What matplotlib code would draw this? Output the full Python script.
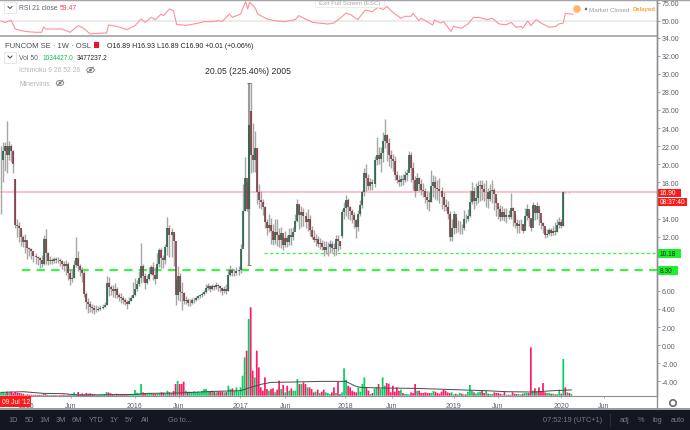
#!/usr/bin/env python
"""
FUNCOM SE weekly chart: RSI pane, candles with volume, dark toolbar.
"""

import matplotlib
matplotlib.use("Agg")
import matplotlib.pyplot as plt
from matplotlib.patches import Rectangle, Circle, Ellipse

plt.rcParams["font.family"] = ["Liberation Sans", "DejaVu Sans"]

# weekly candles, index = week number from the left edge
CLOSE = [
    20.5, 21.5, 22.0, 21.0, 22.0, 21.5, 20.0, 13.3, 13.2, 12.9,
    12.0, 11.4, 11.6, 10.7, 10.6, 10.4, 9.9, 9.8, 9.6, 9.4,
    9.0, 11.7, 10.2, 9.3, 9.4, 9.3, 9.5, 9.4, 9.4, 9.3,
    9.0, 8.8, 9.0, 8.0, 7.3, 7.4, 8.9, 9.6, 8.7, 8.3,
    8.0, 5.7, 4.8, 4.5, 4.2, 4.1, 3.9, 3.9, 4.0, 4.1,
    4.2, 4.4, 6.9, 6.4, 6.2, 6.0, 6.2, 5.5, 5.3, 5.2,
    5.0, 4.8, 4.5, 4.9, 5.2, 5.5, 6.2, 6.8, 7.4, 8.8,
    7.6, 6.9, 7.3, 7.9, 8.6, 7.8, 7.3, 9.0, 10.5, 9.6,
    9.4, 10.9, 13.0, 12.2, 12.5, 11.5, 5.6, 7.6, 5.9, 5.8,
    4.9, 5.0, 4.7, 4.7, 5.0, 5.0, 5.2, 5.4, 5.5, 5.7,
    5.9, 6.3, 6.5, 6.2, 6.5, 6.4, 6.7, 6.5, 6.3, 6.0,
    6.2, 6.0, 7.8, 8.3, 8.0, 8.0, 8.2, 8.3, 10.6, 14.8,
    18.5, 15.0, 24.3, 21.0, 20.5, 21.8, 16.9, 16.0, 15.8, 15.3,
    13.6, 13.0, 13.3, 12.6, 11.6, 12.5, 12.2, 11.6, 12.4, 11.1,
    11.9, 11.4, 12.2, 12.0, 12.5, 13.7, 15.6, 14.4, 14.7, 14.3,
    13.6, 14.0, 12.7, 12.0, 11.6, 11.7, 11.2, 11.3, 10.8, 10.5,
    10.9, 10.9, 11.2, 10.7, 10.6, 11.7, 11.5, 11.0, 14.7, 15.2,
    16.0, 15.3, 14.8, 14.4, 13.8, 13.1, 14.5, 15.5, 16.9, 19.0,
    18.5, 17.6, 18.0, 17.8, 20.5, 21.0, 20.6, 21.2, 22.6, 23.2,
    22.3, 21.0, 20.6, 20.4, 18.8, 18.2, 18.0, 18.4, 18.3, 18.8,
    19.0, 21.0, 19.6, 18.2, 17.0, 18.5, 17.8, 17.2, 17.0, 16.4,
    16.0, 15.8, 17.6, 18.0, 17.4, 17.3, 17.0, 16.4, 15.5, 15.3,
    14.5, 12.0, 13.0, 14.5, 13.0, 13.0, 13.0, 12.9, 14.0, 13.9,
    14.3, 15.8, 17.0, 15.9, 16.3, 17.6, 17.7, 17.3, 16.9, 16.9,
    16.1, 17.0, 17.2, 16.7, 15.7, 15.1, 14.2, 14.7, 14.2, 14.4,
    14.2, 15.2, 14.8, 13.5, 13.2, 13.4, 13.4, 12.6, 14.3, 15.0,
    14.1, 13.0, 15.5, 14.6, 15.4, 14.6, 13.5, 13.2, 12.2, 12.3,
    12.7, 12.4, 12.6, 12.5, 13.3, 13.6, 13.2, 16.9, 16.88, 16.90,
    16.89, 16.90,
]
HIGH = [
    22.0, 22.4, 22.4, 24.8, 22.6, 22.2, 21.6, 18.4, 13.9, 13.6,
    12.7, 12.2, 12.3, 11.0, 10.9, 10.7, 10.3, 10.2, 9.9, 9.7,
    10.0, 12.2, 12.8, 10.3, 9.9, 9.6, 9.8, 9.7, 9.7, 9.6,
    9.4, 9.3, 9.4, 9.2, 8.4, 8.4, 9.4, 12.0, 10.4, 9.0,
    8.6, 8.2, 5.9, 5.2, 4.9, 4.6, 4.4, 4.4, 4.3, 4.4,
    4.5, 4.8, 7.7, 7.5, 6.6, 6.6, 6.9, 6.4, 5.8, 5.8,
    5.4, 5.2, 5.0, 5.3, 5.6, 7.0, 7.4, 7.2, 8.2, 11.3,
    9.0, 8.0, 7.8, 8.6, 8.9, 9.2, 8.6, 10.2, 10.7, 10.7,
    10.0, 11.2, 14.2, 13.3, 13.0, 12.4, 7.3, 8.7, 8.0, 7.0,
    5.9, 5.4, 5.2, 5.1, 5.2, 5.3, 5.4, 5.6, 5.7, 5.9,
    6.1, 6.8, 6.9, 6.6, 6.8, 6.7, 7.0, 6.8, 6.7, 6.4,
    6.5, 6.8, 8.4, 8.9, 8.5, 8.4, 8.6, 8.7, 11.2, 17.8,
    20.8, 18.0, 28.9, 29.0, 24.6, 23.7, 21.8, 17.8, 17.0, 16.2,
    15.4, 13.9, 14.5, 14.1, 13.4, 14.0, 14.0, 12.9, 13.1, 12.1,
    12.6, 12.2, 12.9, 12.9, 13.1, 14.5, 16.2, 15.5, 15.4, 15.2,
    14.7, 15.0, 14.4, 13.2, 12.7, 12.3, 12.1, 11.9, 11.6, 11.5,
    11.5, 11.4, 11.6, 11.5, 11.3, 12.2, 12.2, 11.5, 15.0, 15.8,
    16.6, 16.3, 15.4, 15.0, 14.7, 14.0, 14.9, 16.0, 17.2, 19.6,
    20.0, 18.9, 18.5, 18.4, 20.9, 23.0, 21.9, 21.9, 23.6, 25.0,
    23.3, 22.9, 21.6, 21.1, 20.9, 19.3, 18.8, 18.8, 18.9, 19.2,
    19.5, 21.5, 21.4, 20.2, 18.7, 19.0, 18.6, 18.4, 17.9, 17.4,
    17.0, 16.9, 19.4, 18.8, 18.7, 18.2, 18.5, 17.5, 16.9, 16.2,
    15.9, 14.8, 14.0, 14.8, 14.2, 13.8, 13.7, 13.4, 14.9, 14.5,
    15.0, 17.2, 18.0, 17.5, 17.9, 18.1, 18.3, 18.3, 17.9, 18.3,
    17.4, 17.8, 18.3, 17.4, 16.4, 15.4, 15.5, 15.4, 15.2, 15.2,
    14.9, 16.8, 15.3, 14.5, 13.9, 13.8, 13.9, 13.4, 15.2, 15.6,
    14.8, 13.9, 15.8, 15.5, 15.8, 15.0, 13.8, 13.6, 13.0, 12.8,
    13.0, 13.0, 13.2, 13.6, 14.0, 14.2, 13.9, 17.0, 16.93, 16.93,
    16.93, 16.93,
]
LOW = [
    14.5, 18.0, 19.2, 19.0, 20.5, 20.2, 19.0, 13.0, 12.0, 11.4,
    11.0, 10.9, 10.2, 9.5, 9.9, 9.5, 9.2, 9.0, 8.9, 8.5,
    8.6, 8.9, 9.0, 8.9, 9.0, 9.0, 9.1, 9.1, 9.1, 8.7,
    8.4, 8.2, 7.8, 7.2, 6.6, 7.0, 7.4, 8.6, 8.2, 7.6,
    7.0, 5.3, 4.0, 3.6, 3.7, 3.6, 3.5, 3.7, 3.8, 3.9,
    4.0, 4.2, 4.4, 5.4, 5.6, 5.3, 5.2, 5.2, 4.9, 4.7,
    4.6, 4.4, 4.0, 4.5, 4.9, 5.2, 5.4, 6.0, 6.5, 6.9,
    7.0, 6.2, 6.8, 7.2, 7.8, 7.2, 6.8, 8.2, 8.6, 8.5,
    8.5, 9.0, 10.0, 9.8, 9.7, 8.8, 4.4, 5.0, 4.9, 3.9,
    4.5, 4.6, 4.3, 4.3, 4.6, 4.7, 4.9, 5.1, 5.2, 5.3,
    5.5, 5.8, 6.1, 5.9, 6.1, 6.1, 6.2, 6.0, 5.9, 5.6,
    5.8, 5.7, 6.0, 7.6, 7.6, 7.6, 7.8, 7.8, 8.0, 11.0,
    14.8, 14.8, 14.5, 19.0, 19.1, 19.1, 15.6, 15.2, 15.0, 14.4,
    12.9, 12.2, 12.5, 11.2, 11.1, 11.2, 11.0, 10.9, 10.7, 10.5,
    10.9, 10.8, 11.1, 11.1, 11.6, 12.9, 13.6, 12.8, 13.1, 13.2,
    13.0, 12.6, 12.1, 11.7, 11.4, 11.0, 10.9, 10.6, 10.5, 9.9,
    10.1, 9.9, 10.2, 10.3, 9.9, 10.0, 10.4, 10.6, 11.9, 13.9,
    14.3, 14.0, 13.8, 13.5, 12.9, 11.8, 12.6, 14.3, 15.2, 16.5,
    17.0, 17.2, 17.2, 17.2, 17.5, 19.9, 20.0, 19.1, 20.2, 21.8,
    20.4, 19.8, 19.6, 19.2, 18.2, 17.9, 17.6, 17.6, 17.7, 18.0,
    18.1, 19.4, 18.0, 17.2, 16.4, 17.2, 17.0, 16.6, 16.4, 15.7,
    15.1, 14.8, 15.8, 16.4, 16.2, 16.0, 15.7, 15.0, 14.8, 14.8,
    13.9, 11.5, 11.5, 12.3, 12.4, 12.5, 12.3, 12.3, 12.7, 13.5,
    13.7, 14.2, 15.6, 15.0, 15.5, 15.7, 15.9, 16.0, 15.9, 15.3,
    15.2, 15.9, 15.7, 14.9, 14.3, 14.0, 13.7, 13.8, 13.7, 13.5,
    13.9, 13.9, 13.2, 12.9, 12.4, 12.4, 12.7, 12.4, 13.2, 13.8,
    13.2, 12.6, 13.8, 13.8, 14.0, 13.3, 12.8, 12.4, 11.9, 12.0,
    12.2, 12.1, 12.2, 12.2, 12.5, 12.9, 13.0, 13.2, 16.86, 16.88,
    16.87, 16.89,
]
# weeks that opened away from the previous close
OPEN_GAPS = {7: 18.4, 123: 25.9, 168: 12.1}

# volume, millions of shares
VOLUME = [
    2.0, 2.2, 1.5, 2.4, 1.8, 2.5, 1.5, 2.2, 1.8, 1.6,
    1.4, 1.2, 0.6, 0.8, 0.6, 0.6, 0.5, 0.5, 0.4, 0.5,
    0.5, 1.4, 0.9, 0.5, 0.4, 0.4, 0.5, 0.4, 0.3, 0.4,
    0.4, 0.6, 0.4, 0.5, 0.5, 0.8, 2.0, 1.0, 2.2, 0.8,
    1.4, 0.8, 1.6, 1.2, 1.4, 1.0, 0.8, 0.6, 0.5, 0.6,
    0.7, 1.0, 2.2, 2.0, 1.4, 1.0, 0.8, 1.2, 0.9, 1.0,
    0.7, 0.8, 0.9, 1.0, 0.8, 1.0, 3.5, 1.8, 1.2, 7.0,
    2.0, 1.4, 1.2, 1.4, 1.6, 1.2, 1.0, 1.2, 1.6, 2.0,
    1.8, 1.4, 3.0, 2.0, 1.6, 2.8, 7.0, 8.8, 7.0, 7.0,
    8.4, 3.0, 2.4, 2.4, 2.0, 2.6, 2.2, 2.4, 2.0, 2.8,
    4.0, 4.0, 2.4, 2.6, 3.0, 2.4, 2.0, 2.6, 2.4, 2.4,
    2.0, 2.2, 6.0, 4.0, 4.4, 3.0, 5.0, 2.6, 5.0, 12.0,
    23.0, 27.0, 46.0, 53.0, 15.0, 11.0, 27.0, 17.0, 5.0, 3.0,
    11.0, 4.0, 3.0, 4.0, 4.4, 2.0, 3.6, 9.0, 4.0, 6.4,
    2.0, 6.0, 3.0, 4.4, 3.0, 3.0, 10.0, 7.0, 7.0, 8.0,
    7.0, 5.0, 5.0, 4.0, 2.0, 2.4, 3.6, 1.6, 2.4, 3.6,
    2.0, 1.6, 1.0, 2.0, 5.0, 1.6, 8.4, 1.0, 2.0, 16.4,
    9.6, 6.0, 5.0, 3.0, 2.4, 2.0, 5.0, 2.4, 7.0, 11.0,
    5.0, 3.0, 1.0, 1.6, 4.4, 5.0, 7.0, 4.0, 11.0, 6.0,
    7.6, 7.2, 2.0, 6.0, 2.4, 5.0, 3.0, 3.6, 1.6, 1.0,
    1.0, 0.8, 2.0, 1.6, 7.0, 3.0, 3.0, 1.6, 1.6, 2.0,
    1.6, 1.6, 1.6, 2.8, 2.4, 1.6, 1.2, 2.4, 3.6, 3.0,
    2.0, 1.6, 2.0, 0.8, 1.2, 0.8, 1.6, 1.2, 0.8, 0.8,
    2.4, 6.4, 3.0, 2.0, 1.2, 2.0, 2.4, 3.2, 1.6, 2.8,
    1.2, 1.0, 1.0, 2.0, 1.6, 1.6, 1.2, 0.8, 2.4, 0.6,
    0.6, 0.6, 2.0, 1.2, 1.0, 1.0, 0.8, 1.2, 1.6, 1.6,
    1.6, 29.0, 3.0, 4.4, 2.4, 5.0, 2.8, 7.6, 2.0, 1.6,
    1.6, 1.2, 1.2, 0.8, 1.0, 3.6, 1.2, 22.0, 5.0, 2.0,
    1.6, 1.03,
]
VOL_MA_WEEK = [0, 11, 21, 31, 38, 54, 66, 72, 87, 105, 118, 123, 128, 133,
               144, 158, 170, 174, 177, 188, 203, 214, 224, 239, 249, 262, 272, 281]
VOL_MA = [2.0, 2.4, 1.4, 1.2, 0.4, 0.6, 0.8, 1.4, 1.6, 2.6, 3.0, 5.0, 6.8, 8.0,
          8.2, 8.6, 8.6, 6.0, 5.0, 4.6, 4.4, 4.0, 3.6, 3.0, 2.4, 2.2, 3.0, 3.48]

RSI_WEEK = [
    0, 2, 5, 7, 10, 13, 17, 20, 21, 22, 30, 34, 38, 40, 44, 47, 52, 53, 57, 62,
    66, 69, 71, 74, 76, 79, 80, 83, 85, 86.5, 91, 96, 100, 104, 107, 109, 112.5,
    114, 116, 118, 120.5, 121.5, 122.5, 125, 126.5, 131, 134.6, 139.6, 145,
    146.6, 150, 153.5, 161, 164, 167.5, 170, 172.5, 175.7, 179.5, 183, 185.6,
    188.4, 190, 193, 197, 199, 202, 203, 205.8, 207, 212.7, 213.5, 216.5, 218,
    221.7, 222.9, 226.7, 230, 232.7, 235.7, 239.3, 242, 245.5, 248.8, 251.3,
    253.7, 256.2, 257, 259.5, 261, 263.6, 266, 270, 273.4, 274.6, 277, 278, 281.7,
]
RSI_VALUE = [
    50, 48, 51, 39, 36.6, 35.2, 34.3, 34.3, 41.7, 38.9, 38.9, 34.3, 43.5, 41.2,
    32, 32.8, 33.3, 44.4, 42.6, 38, 43.5, 52.8, 48.1, 55, 51.9, 59.7, 57.4, 66.7,
    64.4, 45.4, 43.9, 46.3, 49.1, 49.1, 50.5, 49.5, 59.7, 55, 57.4, 59.7, 76.8,
    66.7, 76, 69.1, 59.7, 52.8, 50.5, 49.1, 51.9, 57.4, 52.8, 48.1, 45.8, 47.2,
    55, 61, 58.3, 51.9, 65.3, 63, 69, 65.8, 70.4, 62.1, 53.7, 56.5, 56.5, 60.6,
    50.5, 53.7, 44.4, 51.4, 47.2, 49.1, 35.6, 42.6, 39.8, 45.8, 55, 55, 51.9,
    53.7, 45.8, 44.9, 48.1, 41.2, 42.6, 39.8, 50, 43.5, 51.9, 47.2, 41.2, 42.6,
    45.8, 47.2, 60.6, 59.47,
]

# 16.00, 10.00 and 8.00 sit under the price tags in the chart, so they get no label
PRICE_TICKS = list(range(34, -6, -2))
HIDDEN_PRICE_LABELS = [16, 10, 8]
RSI_TICKS = [75, 50]
DATE_TICK_WEEKS = [12.5, 34.5, 65.8, 87.7, 117.7, 140, 169.5, 192.5, 223, 244.6, 275.9, 297]
DATE_TICK_LABELS = ["2015", "Jun", "2016", "Jun", "2017", "Jun", "2018", "Jun", "2019", "Jun", "2020", "Jun"]

LAST_PRICE = 16.90
SUPPORT_UPPER = 10.18
SUPPORT_LOWER = 8.30
MEASURE_LOW = 8.9
MEASURE_HIGH = 28.95

W, H = 690, 431
GRID = "#8f8f94"
LABEL = "#5d606b"
UP_BODY, DOWN_BODY = "#17583a", "#7d2a34"
UP_VOL, DOWN_VOL = "#00d060", "#ff1a66"
PINK = "#ffb0b8"
LIME = "#2dfc3c"
RED = "#ff1a1a"


def add_pane(fig, left, top, right, bottom, **kwargs):
    """Axes placed by pixel edges, measured from the top left."""
    return fig.add_axes([left / W, 1 - bottom / H, (right - left) / W, (bottom - top) / H], **kwargs)


def week_limits():
    # 2.03 px per week, week 0 sits 1 px in from the left edge
    return (-1 / 2.03, 656 / 2.03)


fig = plt.figure(figsize=(W / 100, H / 100), dpi=100, facecolor="white")

# RSI pane
ax_rsi = add_pane(fig, 0, 1, 657, 37)
ax_rsi.set_xlim(*week_limits())
ax_rsi.set_ylim(50 + (22 - 37) / 0.72, 50 + (22 - 1) / 0.72)
ax_rsi.axhline(50, color="#e9e9e9", lw=1.2)
ax_rsi.plot(RSI_WEEK, RSI_VALUE, color="#ff8f98", lw=0.8)
ax_rsi.yaxis.tick_right()
ax_rsi.set_yticks(RSI_TICKS)
ax_rsi.set_yticklabels([f"{t:.2f}" for t in RSI_TICKS])
ax_rsi.set_xticks([])

# price pane
ax = add_pane(fig, 0, 38, 657, 396.7)
ax.set_xlim(*week_limits())
ax.set_ylim(34 - (396.7 - 38.5) / 9.05, 34 - (38 - 38.5) / 9.05)

weeks = list(range(len(CLOSE)))
opens = [CLOSE[0]] + CLOSE[:-1]
for week, value in OPEN_GAPS.items():
    opens[week] = value
is_up = [c >= o for c, o in zip(CLOSE, opens)]

ax.axhline(LAST_PRICE, color=PINK, lw=1.1, zorder=1)
ax.hlines(SUPPORT_UPPER, 129.6, week_limits()[1], color=LIME, lw=0.9, linestyles=(0, (2.5, 2)), zorder=1)
ax.hlines(SUPPORT_LOWER, 10.5, week_limits()[1], color=LIME, lw=1.5, linestyles=(0, (4, 3)), zorder=1)

ax.vlines(weeks, LOW, HIGH, color="#a6a6a6", lw=1.0, zorder=2)
body_color = [UP_BODY if u else DOWN_BODY for u in is_up]
ax.vlines(weeks, opens, CLOSE, color=body_color, lw=1.1, zorder=3)

# the measure tool drawn over the 2017 spike
ax.vlines(122.2, MEASURE_LOW, MEASURE_HIGH, color="#9c9c9c", lw=1.5, zorder=2)
ax.hlines([MEASURE_LOW, MEASURE_HIGH], 121.2, 123.2, color="#666666", lw=0.6, zorder=4)

ax.yaxis.tick_right()
ax.set_yticks(PRICE_TICKS)
ax.set_yticklabels(["" if t in HIDDEN_PRICE_LABELS else f"{t:.2f}" for t in PRICE_TICKS])
ax.set_xticks(DATE_TICK_WEEKS)
ax.set_xticklabels(DATE_TICK_LABELS)

# volume sits on the same span with its own scale, 0.6M per pixel
ax_vol = add_pane(fig, 0, 38, 657, 396.7)
ax_vol.patch.set_alpha(0)
ax_vol.set_xlim(*week_limits())
ax_vol.set_ylim(0, 358.7 * 0.6)
vol_bars = ax_vol.bar(weeks, VOLUME, width=0.85, color=[UP_VOL if u else DOWN_VOL for u in is_up], linewidth=0)
for bar in vol_bars:
    # snapping leaves some bars one pixel wide and others two
    bar.set_snap(False)
ax_vol.plot(VOL_MA_WEEK, VOL_MA, color="#4a4a4a", lw=0.7)
ax_vol.axis("off")

for a in (ax, ax_rsi):
    for side in ("top", "left", "bottom"):
        a.spines[side].set_visible(False)
    a.spines["right"].set_color(GRID)
    a.spines["right"].set_linewidth(1.0)
    a.tick_params(axis="y", length=2, width=0.6, color=GRID, labelsize=5, labelcolor=LABEL, pad=1.5)
ax.spines["bottom"].set_visible(True)
ax.spines["bottom"].set_color(GRID)
ax.spines["bottom"].set_linewidth(0.8)
ax.tick_params(axis="x", length=1.5, width=0.5, color=GRID, labelsize=5, labelcolor=LABEL, pad=3)

# overlay in pixel coordinates for the chrome
ov = fig.add_axes([0, 0, 1, 1], zorder=10)
ov.set_xlim(0, W)
ov.set_ylim(H, 0)
ov.axis("off")
ov.patch.set_alpha(0)


def label(x, y, s, size=5.0, color=LABEL, ha="left", **kwargs):
    return ov.text(x, y, s, fontsize=size, color=color, ha=ha, va="center", **kwargs)


def button(x, y):
    ov.add_patch(Rectangle((x, y), 12, 11, fc="white", ec="#e3e3e3", lw=0.6))
    ov.plot([x + 4, x + 6, x + 8], [y + 4.5, y + 6.5, y + 4.5], color="#444444", lw=0.7)


def eye(x, y):
    ov.add_patch(Ellipse((x, y), 7.5, 5, fc="none", ec="#777777", lw=0.6))
    ov.add_patch(Circle((x, y), 1.4, fc="#777777", ec="none"))
    ov.plot([x - 3, x + 3], [y + 3, y - 3], color="#777777", lw=0.5)


def tag(x0, x1, y0, y1, s, color, text_color):
    ov.add_patch(Rectangle((x0, y0), x1 - x0, y1 - y0, fc=color, ec="none"))
    label(x0 + 2.5, (y0 + y1) / 2, s, size=4.8, color=text_color)


# frame lines
ov.plot([0, W], [0.5, 0.5], color="#a3a3a8", lw=1.0)
ov.plot([0, 657], [37, 37], color="#a8a8a8", lw=1.3)
ov.plot([657, 657], [0, 410], color=GRID, lw=1.0)

# RSI legend and status
button(4, 3)
label(19, 9, "RSI 21 close", size=4.9)
label(60, 9, "59.47", color="#ff3b4a", size=4.9)
ov.add_patch(Rectangle((315, 0), 69, 8, fc="white", ec="#e6e6e6", lw=0.5))
label(349.5, 4, "Exit Full Screen (ESC)", size=4.4, color="#a9a9a9", ha="center")
ov.add_patch(Circle((577, 10), 3.8, fc="#ffb469", ec="#ffd9b3", lw=0.5))
ov.add_patch(Circle((586, 10), 1.3, fc="#70727a", ec="none"))
label(589, 10, "Market Closed", size=4.5, color="#9a9ca3")
label(633, 10, "Delayed", size=4.3, color="#ff9f33", fontweight="bold")

# symbol legend
label(5, 46.5, "FUNCOM SE · 1W · OSL", size=5.5, color="#4a4c55")
ov.add_patch(Rectangle((94, 43), 5, 6, fc="#f01030", ec="none"))
label(107, 46.5, "O16.89 H16.93 L16.89 C16.90 +0.01 (+0.06%)", size=5.0, color="#222222")
button(4, 52.5)
label(19, 58, "Vol 50", size=4.9)
label(43, 58, "1034427.0", color="#13b95c", size=4.7)
label(77, 58, "3477237.2", color="#222222", size=4.7)
label(19, 71, "Ichimoku 9 26 52 26", color="#b5b5b8", size=4.9)
eye(90.5, 71)
label(19, 84, "Minervinis", color="#b5b5b8", size=4.9)
eye(60, 84)
label(248, 71, "20.05 (225.40%) 2005", size=6.2, color="#2c2c2c", ha="center")

# price tags
tag(657.5, 681, 190, 198, "16.90", RED, "white")
tag(657.5, 686.5, 199, 207, "08:37:40", RED, "white")
tag(657.5, 681, 250, 258.7, "10.18", "#1cf12c", "#222222")
tag(657.5, 678, 267, 276, "8.30", "#1cf12c", "#222222")
tag(0, 30.5, 397, 408, "09 Jul '12", RED, "white")

# settings gear
ov.add_patch(Circle((673, 404), 3.2, fc="none", ec="#6b6d75", lw=1.2))

# toolbar
ov.add_patch(Rectangle((0, 409.5), W, 1.5, fc="#9a9a9f", ec="none"))
ov.add_patch(Rectangle((0, 411), W, 20, fc="#131722", ec="none"))
ov.plot([610, 610], [415, 427], color="#33363f", lw=0.6)
for x, s in [(13, "1D"), (29, "5D"), (45, "1M"), (61, "3M"), (77, "6M"), (96, "YTD"),
             (114, "1Y"), (129, "5Y"), (145, "All"), (180, "Go to..."),
             (573, "07:52:19 (UTC+1)"), (625, "adj"), (641, "%"), (657, "log"), (678, "auto")]:
    label(x, 421, s, size=5.3, color="#787b86", ha="center")

fig.savefig("out.png", dpi=100, facecolor="white")
